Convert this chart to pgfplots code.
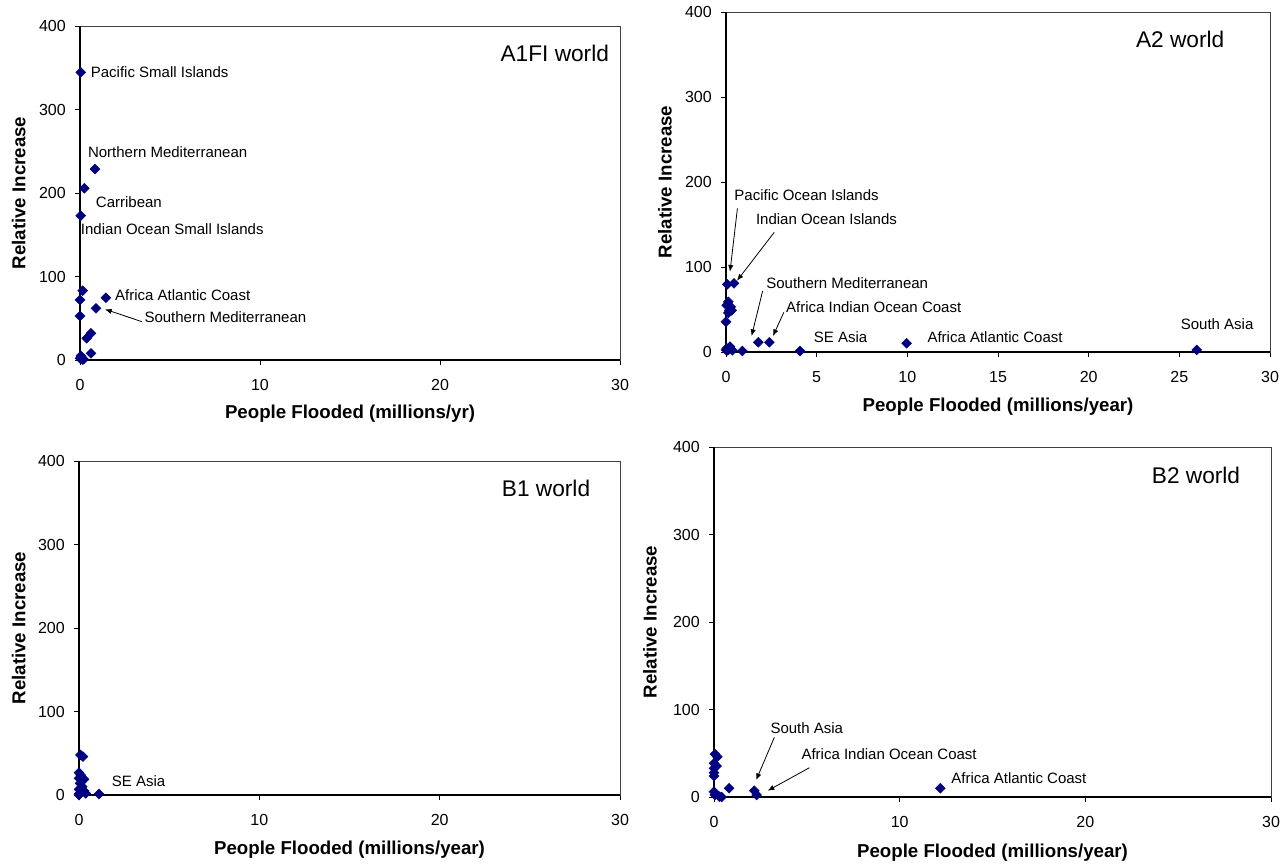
\documentclass[border=0pt]{standalone}
\usepackage{fontspec}
\setmainfont{Liberation Sans}
\usepackage{pgfplots}
\pgfplotsset{compat=1.18}
\usetikzlibrary{arrows.meta}
\definecolor{navy}{HTML}{000080}
\pgfplotsset{
  panel/.style={
    scale only axis,
    anchor=south west,
    xmin=0, xmax=30, ymin=0, ymax=400,
    ytick={0,100,200,300,400},
    axis line style={line width=0.5pt, black!75},
    tick align=outside,
    xtick pos=bottom, ytick pos=left,
    major tick length=3.75pt,
    tick style={black, line width=0.6pt},
    /pgf/number format/assume math mode=true,
    tick label style={font=\fontsize{12}{14}\selectfont},
    xticklabel style={anchor=center, inner sep=0pt, yshift=-15pt},
    yticklabel style={anchor=east, inner sep=0pt, xshift=-6.75pt},
    label style={font=\bfseries\fontsize{14}{16}\selectfont},
    ylabel={Relative Increase},
    clip=false,
  },
  pts/.style={only marks, mark=square*, mark size=2.6pt,
    mark options={rotate=45, fill=navy, draw=navy}},
}
\tikzset{
  ann/.style={anchor=west, inner sep=0pt, font=\fontsize{11.25}{13}\selectfont},
  ttl/.style={inner sep=0pt, font=\fontsize{17}{20}\selectfont},
  arr/.style={-{Latex[length=5pt,width=4pt]}, line width=0.6pt, black},
}
\begin{document}
\begin{tikzpicture}
\path[use as bounding box] (0,0) rectangle (966pt,648.75pt);

% ---------------- A1FI ----------------
\begin{axis}[panel, at={(60pt,378.75pt)}, width=405pt, height=250.5pt,
  xtick={0,10,20,30},
  xlabel={People Flooded (millions/yr)},
  xlabel style={at={(axis description cs:0.5,0)}, anchor=center, yshift=-40.5pt},
  ylabel style={at={(axis description cs:0,0.5)}, anchor=center, yshift=46pt}]
\draw[line width=1.5pt, black] (rel axis cs:0,1) -- (rel axis cs:0,0) -- (rel axis cs:1,0);
\addplot[pts] coordinates {
 (0.04,344.5) (0.83,228.7) (0.24,205.6) (0.04,172.8) (0.15,83) (0,72) (0,52.7)
 (1.44,74.6) (0.89,61.9) (0.61,32) (0.37,26) (0.61,8)
 (0,2) (0.1,3) (0.2,1) (0.05,5) (0.15,0.5)
};
\node[ann] at (axis cs:0.59,345) {Pacific Small Islands};
\node[ann] at (axis cs:0.43,249) {Northern Mediterranean};
\node[ann] at (axis cs:0.87,189) {Carribean};
\node[ann] at (axis cs:0.04,157) {Indian Ocean Small Islands};
\node[ann] at (axis cs:1.94,78) {Africa Atlantic Coast};
\node[ann] at (axis cs:3.57,51.5) {Southern Mediterranean};
\draw[arr] (axis cs:3.43,46) -- (axis cs:1.39,60.7);
\node[ttl, anchor=east] at (axis cs:29.4,367) {A1FI world};
\end{axis}

% ---------------- A2 ----------------
\begin{axis}[panel, at={(544.5pt,384.75pt)}, width=408pt, height=255pt,
  xtick={0,5,10,15,20,25,30},
  xlabel={People Flooded (millions/year)},
  xlabel style={at={(axis description cs:0.5,0)}, anchor=center, yshift=-41.25pt},
  ylabel style={at={(axis description cs:0,0.5)}, anchor=center, yshift=45.75pt}]
\draw[line width=1.5pt, black] (rel axis cs:0,1) -- (rel axis cs:0,0) -- (rel axis cs:1,0);
\addplot[pts] coordinates {
 (0.07,79.6) (0.44,80.8) (0.13,59) (0.04,55) (0.26,53) (0.18,49) (0.31,49) (0.13,46)
 (0,35.6) (1.78,11.4) (2.39,11.4)
 (0.04,4.3) (0.22,6.3) (0,2.4) (0.1,2) (0.35,2)
 (0.9,1.2) (4.08,1.2) (9.96,10.2) (25.96,2.4)
};
\node[ann] at (axis cs:0.45,184.7) {Pacific Ocean Islands};
\draw[arr] (axis cs:0.63,169) -- (axis cs:0.22,94.5);
\node[ann] at (axis cs:1.64,156.5) {Indian Ocean Islands};
\draw[arr] (axis cs:2.66,140.8) -- (axis cs:0.61,83.9);
\node[ann] at (axis cs:2.21,81.5) {Southern Mediterranean};
\draw[arr] (axis cs:2.02,71.8) -- (axis cs:1.41,18.8);
\node[ann] at (axis cs:3.3,53.3) {Africa Indian Ocean Coast};
\draw[arr] (axis cs:3.19,46.7) -- (axis cs:2.59,18.8);
\node[ann] at (axis cs:4.83,18) {SE Asia};
\node[ann] at (axis cs:11.1,18) {Africa Atlantic Coast};
\node[ann] at (axis cs:25.07,33) {South Asia};
\node[ttl, anchor=west] at (axis cs:22.6,368) {A2 world};
\end{axis}

% ---------------- B1 ----------------
\begin{axis}[panel, at={(59.25pt,52.5pt)}, width=405.75pt, height=250.5pt,
  xtick={0,10,20,30},
  xlabel={People Flooded (millions/year)},
  xlabel style={at={(axis description cs:0.5,0)}, anchor=center, yshift=-41.25pt},
  ylabel style={at={(axis description cs:0,0.5)}, anchor=center, yshift=45.3pt}]
\draw[line width=1.5pt, black] (rel axis cs:0,1) -- (rel axis cs:0,0) -- (rel axis cs:1,0);
\addplot[pts] coordinates {
 (0.08,48) (0.22,46) (0,26.7) (0.09,24) (0.28,18.8) (0,20) (0.06,14) (0.18,10)
 (0,6.8) (0.28,5) (0,1.2) (0.37,2) (0,0) (1.11,1.2)
};
\node[ann] at (axis cs:1.81,17) {SE Asia};
\node[ttl, anchor=west] at (axis cs:23.44,367) {B1 world};
\end{axis}

% ---------------- B2 ----------------
\begin{axis}[panel, at={(535.5pt,51pt)}, width=417.75pt, height=262.5pt,
  xtick={0,10,20,30},
  xlabel={People Flooded (millions/year)},
  xlabel style={at={(axis description cs:0.5,0)}, anchor=center, yshift=-42pt},
  ylabel style={at={(axis description cs:0,0.5)}, anchor=center, yshift=48pt}]
\draw[line width=1.5pt, black] (rel axis cs:0,1) -- (rel axis cs:0,0) -- (rel axis cs:1,0);
\addplot[pts] coordinates {
 (0.05,49) (0.18,46) (0,38.5) (0.14,35.4) (0,32.8) (0,27.8) (0,24)
 (0,6) (0.05,2.3) (0.29,0.4) (0.41,0) (0.81,10)
 (2.17,7.2) (2.3,2.3) (12.19,10)
};
\node[ann] at (axis cs:3.03,78.5) {South Asia};
\draw[arr] (axis cs:3.25,68.2) -- (axis cs:2.27,19.4);
\node[ann] at (axis cs:4.7,49) {Africa Indian Ocean Coast};
\draw[arr] (axis cs:5.14,33.5) -- (axis cs:2.89,7.2);
\node[ann] at (axis cs:12.77,22) {Africa Atlantic Coast};
\node[ttl, anchor=west] at (axis cs:23.57,368) {B2 world};
\end{axis}
\end{tikzpicture}
\end{document}
